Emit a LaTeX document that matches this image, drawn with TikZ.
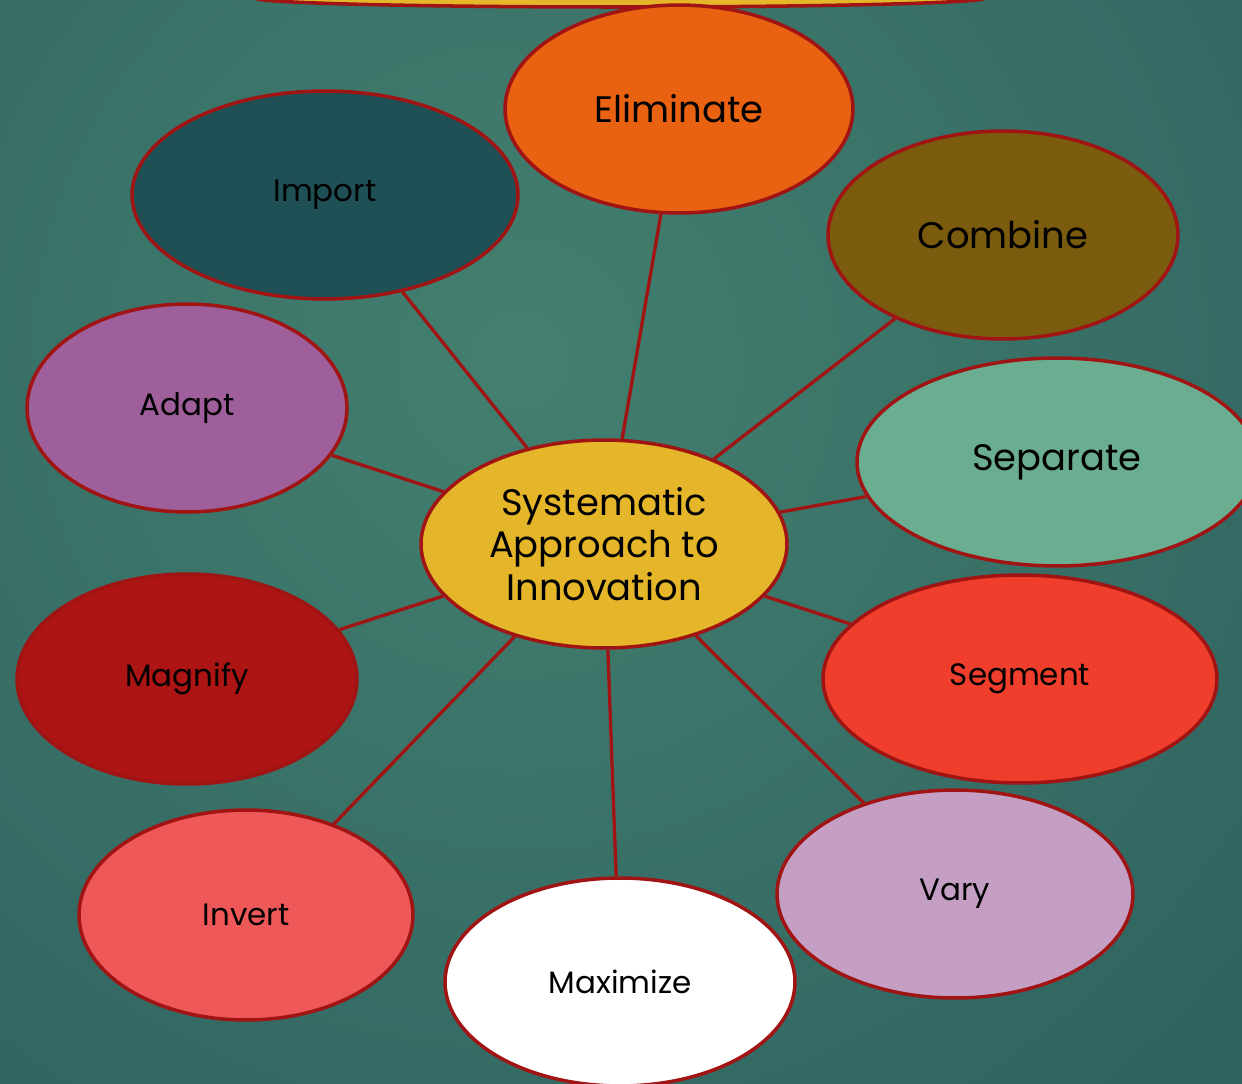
\documentclass[tikz,border=0pt]{standalone}
\usepackage{fontspec}
\setmainfont{Poppins}
\usepackage{tikz}
\usetikzlibrary{shapes.geometric, backgrounds}
\definecolor{edgered}{HTML}{A01414}
\definecolor{bgin}{HTML}{43806F}
\definecolor{bgout}{HTML}{1F4C54}
\definecolor{coreyellow}{HTML}{E5B62A}
\definecolor{elimorange}{HTML}{E96212}
\definecolor{importteal}{HTML}{1F5055}
\definecolor{combineolive}{HTML}{7B5C0F}
\definecolor{adaptpurple}{HTML}{9E5F9B}
\definecolor{separategreen}{HTML}{6AAD90}
\definecolor{magnifyred}{HTML}{AD1414}
\definecolor{segmentred}{HTML}{EF3E2B}
\definecolor{invertpink}{HTML}{EF5858}
\definecolor{varylilac}{HTML}{C49FC3}

\begin{document}
\begin{tikzpicture}[
  x=0.02cm, y=-0.02cm,
  bubble/.style={ellipse, draw=edgered, line width=2pt, inner sep=0pt, align=center, text=black, font=\fontsize{17.6}{21}\selectfont},
  bigbubble/.style={bubble, font=\fontsize{21}{24}\selectfont},
  link/.style={draw=edgered, line width=1.9pt}
]
  \useasboundingbox (0,0) rectangle (1242,1083);

  % Hintergrund
  \begin{scope}[on background layer]
    \fill[bgout] (0,0) rectangle (1242,1083);
    \begin{scope}
      \clip (0,0) rectangle (1242,1083);
      \shade[inner color=bgin, outer color=bgout] (520,360) circle (1750);
    \end{scope}
  \end{scope}

  % Titel (oben abgeschnitten)
  \node[bubble, fill=coreyellow, minimum width=14.6cm, minimum height=0.36cm] (title) at (620,-2) {};

  % Mitte
  \node[bigbubble, fill=coreyellow, minimum width=7.32cm, minimum height=4.16cm] (core) at (604,544) {Systematic\\Approach to\\Innovation};

  % Aeste
  \node[bigbubble, fill=elimorange, minimum width=6.96cm, minimum height=4.16cm] (elim) at (679,109) {Eliminate};
  \node[bubble, fill=importteal, minimum width=7.72cm, minimum height=4.16cm] (import) at (325,195) {Import};
  \node[bigbubble, fill=combineolive, minimum width=7.0cm, minimum height=4.16cm] (combine) at (1003,235) {Combine};
  \node[bubble, fill=adaptpurple, minimum width=6.4cm, minimum height=4.16cm] (adapt) at (187,408) {Adapt};
  \node[bigbubble, fill=separategreen, minimum width=8.0cm, minimum height=4.16cm] (separate) at (1057,462) {Separate};
  \node[bubble, fill=magnifyred, minimum width=6.8cm, minimum height=4.2cm] (magnify) at (187,679) {Magnify};
  \node[bubble, fill=segmentred, minimum width=7.88cm, minimum height=4.16cm] (segment) at (1020,679) {Segment};
  \node[bubble, fill=invertpink, minimum width=6.68cm, minimum height=4.2cm] (invert) at (246,915) {Invert};
  \node[bubble, fill=varylilac, minimum width=7.12cm, minimum height=4.16cm] (vary) at (955,894) {Vary};
  \node[bubble, fill=white, minimum width=7.0cm, minimum height=4.16cm] (maximize) at (620,982) {Maximize};

  % Verbindungen
  \begin{scope}[on background layer]
    \foreach \n in {elim,import,combine,adapt,separate,magnify,segment,invert,vary,maximize} {
      \draw[link] (core) -- (\n);
    }
  \end{scope}
\end{tikzpicture}
\end{document}
